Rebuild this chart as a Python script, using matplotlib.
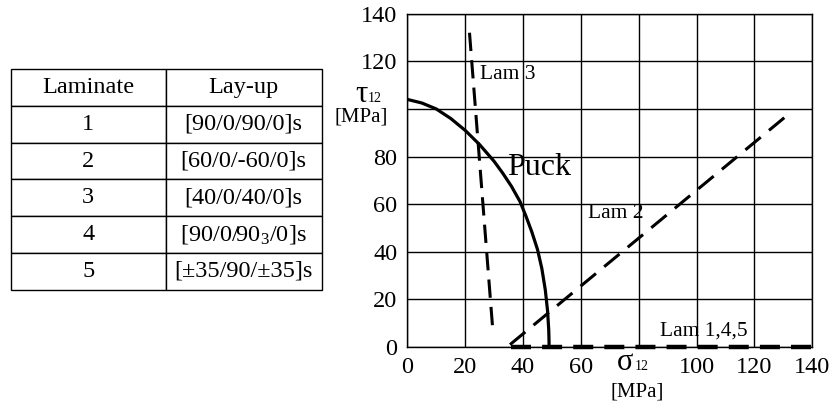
import numpy as np
import matplotlib
matplotlib.use("Agg")
import matplotlib.pyplot as plt

plt.rcParams['font.family'] = ['Liberation Serif', 'DejaVu Serif']
plt.rcParams['mathtext.fontset'] = 'custom'
plt.rcParams['mathtext.rm'] = 'Liberation Serif'
plt.rcParams['mathtext.it'] = 'Liberation Serif'
plt.rcParams['mathtext.default'] = 'regular'

# table data
laminates = ["1", "2", "3", "4", "5"]
layups = ["[90/0/90/0]s", "[60/0/-60/0]s", "[40/0/40/0]s",
          r"[90/0/90$_3$/0]s", "[±35/90/±35]s"]

# curves (sigma12, tau12 in MPa)
puck_x = [0, 5, 10, 15, 20, 25, 30, 33, 36, 39, 41, 43, 45, 46.5, 47.7, 48.5, 48.9, 49, 49]
puck_y = [104, 102.5, 100, 96, 91, 85, 78, 73, 67.5, 61, 55, 48.5, 41, 33, 24, 15, 7, 2, 0]
lam3_x = [21.5, 29.5]
lam3_y = [132, 8]
lam2_x = [35.5, 132]
lam2_y = [1, 98]
lam145_x = [36, 140]
lam145_y = [0, 0]

x_ticks = [0, 20, 40, 60, 80, 100, 120, 140]
x_labels = ["0", "20", "40", "60", "", "100", "120", "140"]
y_ticks = [0, 20, 40, 60, 80, 100, 120, 140]
y_labels = ["0", "20", "40", "60", "80", "", "120", "140"]

fig = plt.figure(figsize=(8.38, 4.03), dpi=100)

# table on the left
tax = fig.add_axes([11 / 838, (403 - 289.5) / 403, 310.5 / 838, 220 / 403])
tax.axis('off')
tbl = tax.table(cellText=[[a, b] for a, b in zip(laminates, layups)],
                colLabels=["Laminate", "Lay-up"], cellLoc='center',
                bbox=[0, 0, 1, 1], colWidths=[0.498, 0.502])
tbl.auto_set_font_size(False)
tbl.set_fontsize(17.5)
for cell in tbl.get_celld().values():
    cell.set_linewidth(1.0)
    cell.set_edgecolor('black')

# plot on the right
ax = fig.add_axes([407.3 / 838, (403 - 347) / 403, 405 / 838, 333.3 / 403])
ax.plot(puck_x, puck_y, color='black', lw=2.3, solid_capstyle='butt')
ax.plot(lam3_x, lam3_y, color='black', lw=2.2, dashes=(6, 3))
ax.plot(lam2_x, lam2_y, color='black', lw=2.2, dashes=(6.5, 3.5))
ax.plot(lam145_x, lam145_y, color='black', lw=3.2, dashes=(4.5, 2.5), clip_on=False)

ax.set_xlim(0, 140)
ax.set_ylim(0, 140)
ax.set_xticks(x_ticks)
ax.set_xticklabels(x_labels)
ax.set_yticks(y_ticks)
ax.set_yticklabels(y_labels)
ax.tick_params(length=0, labelsize=17.5, pad=7)
ax.grid(True, color='black', lw=1.0)
ax.set_axisbelow(True)
for s in ax.spines.values():
    s.set_linewidth(1.0)

ax.text(25.3, 114.5, "Lam 3", fontsize=15.5, va='center', ha='left')
ax.text(34.5, 75.5, "Puck", fontsize=23, va='center', ha='left')
ax.text(62.5, 56, "Lam 2", fontsize=15.5, va='center', ha='left')
ax.text(87.5, 6.5, "Lam 1,4,5", fontsize=15.5, va='center', ha='left')

# axis names sit where the 100 / 80 tick labels would be
ax.text(-16, 103, "τ", fontsize=22, ha='center', va='baseline', clip_on=False)
ax.text(-13.7, 103, "12", fontsize=10, ha='left', va='baseline', clip_on=False)
ax.text(-16, 94.6, "[MPa]", fontsize=15, ha='center', va='baseline', clip_on=False)
ax.text(75.4, -9.5, "σ", fontsize=22, ha='center', va='baseline', clip_on=False)
ax.text(78.7, -9.5, "12", fontsize=10, ha='left', va='baseline', clip_on=False)
ax.text(79.5, -20.6, "[MPa]", fontsize=15, ha='center', va='baseline', clip_on=False)

fig.savefig("out.png", dpi=100)
